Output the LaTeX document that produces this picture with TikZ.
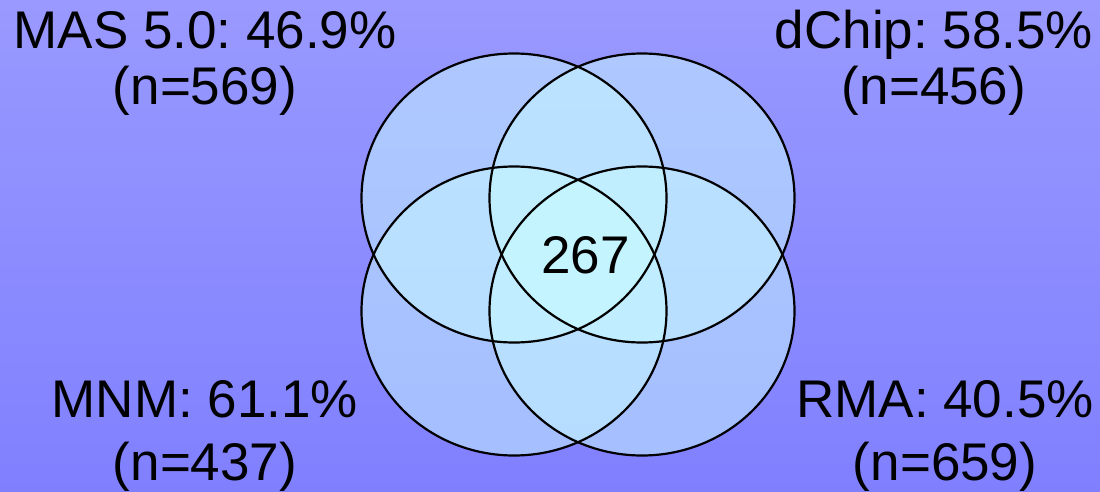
\documentclass[tikz,border=0pt]{standalone}
\usepackage{fontspec}
\setmainfont{Liberation Sans}
\usetikzlibrary{shapes.geometric}
\definecolor{bgtop}{RGB}{153,153,255}
\definecolor{bgbot}{RGB}{128,128,255}
\definecolor{setfill}{RGB}{200,252,255}
\tikzset{
  setfillstyle/.style={ellipse, minimum width=305pt, minimum height=289pt, inner sep=0pt, fill=setfill, fill opacity=0.5, draw=none},
  setline/.style={draw=black, line width=2.2pt},
  lbl/.style={anchor=base, inner sep=0pt, font=\fontsize{53}{60}\selectfont, text=black}
}
\frenchspacing
\begin{document}
\begin{tikzpicture}[x=1pt,y=-1pt]
\useasboundingbox (0,0) rectangle (1100,492);
\shade[top color=bgtop, bottom color=bgbot] (0,0) rectangle (1100,492);
% set fills
\node[setfillstyle] (mas) at (514,198) {};
\node[setfillstyle] (dchip) at (642,198) {};
\node[setfillstyle] (mnm) at (514,311) {};
\node[setfillstyle] (rma) at (642,311) {};
% outlines
\draw[setline] (mas.center) ellipse [x radius=152.5pt, y radius=144.5pt];
\draw[setline] (dchip.center) ellipse [x radius=152.5pt, y radius=144.5pt];
\draw[setline] (mnm.center) ellipse [x radius=152.5pt, y radius=144.5pt];
\draw[setline] (rma.center) ellipse [x radius=152.5pt, y radius=144.5pt];
% labels
\node[lbl] (masA) at (205,49) {MAS 5.0: 46.9\%};
\node[lbl] (masB) at (205,105) {(n=569)};
\node[lbl] (dchipA) at (934,49) {dChip: 58.5\%};
\node[lbl] (dchipB) at (934,105) {(n=456)};
\node[lbl] (mnmA) at (205,417) {MNM: 61.1\%};
\node[lbl] (mnmB) at (205,480) {(n=437)};
\node[lbl] (rmaA) at (945,417) {RMA: 40.5\%};
\node[lbl] (rmaB) at (945,480) {(n=659)};
\node[lbl] (core) at (585.5,273) {267};
\end{tikzpicture}
\end{document}
